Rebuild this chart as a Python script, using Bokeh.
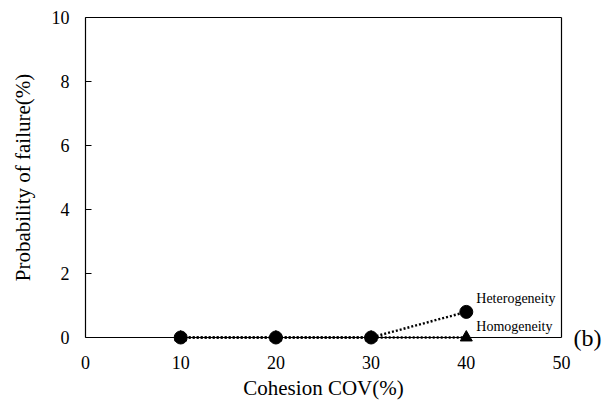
from bokeh.plotting import figure
from bokeh.models import Range1d, Label, FixedTicker, LinearAxis
from bokeh.embed import file_html
from bokeh.resources import INLINE

# Cohesion coefficient of variation (%) and failure probability (%)
cov = [10, 20, 30, 40]
pf_heterogeneity = [0.0, 0.0, 0.0, 0.8]
pf_homogeneity = [0.0, 0.0, 0.0, 0.0]
x_ticks = [0, 10, 20, 30, 40, 50]
y_ticks = [0, 2, 4, 6, 8, 10]
panel_tag = "(b)"

FONT = "Liberation Serif"
W, H = 605, 401
X0, X1, Y0, Y1 = 0, 50, 0, 10
# pixel margins around the data box
ML, MR, MT, MB = 85, 44, 17, 64

# The frame fills the whole canvas so that marks and tick labels on the box edges
# are drawn whole; the box itself is formed by axis lines bounded to the data limits.
sx = (X1 - X0) / (W - ML - MR)
sy = (Y1 - Y0) / (H - MT - MB)
p = figure(width=W, height=H, output_backend="svg", toolbar_location=None,
           x_range=Range1d(X0 - ML * sx, X1 + MR * sx),
           y_range=Range1d(Y0 - MB * sy, Y1 + MT * sy),
           min_border=0)
p.background_fill_color = "white"
p.border_fill_color = "white"
p.outline_line_color = None
p.xgrid.visible = False
p.ygrid.visible = False

for ax in (p.xaxis, p.yaxis):
    ax.axis_line_color = "black"
    ax.axis_line_width = 1.2
    ax.major_label_text_font = FONT
    ax.major_label_text_font_size = "18px"
    ax.major_label_text_color = "black"
    ax.axis_label_text_font = FONT
    ax.axis_label_text_font_size = "21px"
    ax.axis_label_text_font_style = "normal"
    ax.axis_label_text_color = "black"
    ax.minor_tick_line_color = None

p.xaxis.fixed_location = Y0
p.yaxis.fixed_location = X0
p.xaxis.bounds = (X0, X1)
p.yaxis.bounds = (Y0, Y1)
p.xaxis.ticker = FixedTicker(ticks=x_ticks)
p.yaxis.ticker = FixedTicker(ticks=y_ticks)
p.xaxis.major_tick_in = 0
p.xaxis.major_tick_out = 0
p.yaxis.major_tick_in = 6
p.yaxis.major_tick_out = 0
p.yaxis.major_tick_line_color = "black"
p.xaxis.major_label_standoff = 18
p.yaxis.major_label_standoff = 16
p.xaxis.axis_label = "Cohesion COV(%)"
p.yaxis.axis_label = "Probability of failure(%)"
p.xaxis.axis_label_standoff = 4
p.yaxis.axis_label_standoff = 14

# Top edge of the box
top_axis = LinearAxis(ticker=FixedTicker(ticks=[]), fixed_location=Y1, bounds=(X0, X1))
top_axis.axis_line_color = "black"
top_axis.axis_line_width = 1.2
top_axis.major_tick_line_color = None
top_axis.minor_tick_line_color = None
p.add_layout(top_axis, "above")

# Right edge of the box, carrying the panel tag beside the zero line
tag_axis = LinearAxis(ticker=FixedTicker(ticks=[Y0]), major_label_overrides={Y0: panel_tag},
                      fixed_location=X1, bounds=(Y0, Y1))
tag_axis.axis_line_color = "black"
tag_axis.axis_line_width = 1.2
tag_axis.major_tick_line_color = None
tag_axis.minor_tick_line_color = None
tag_axis.major_label_standoff = 6
tag_axis.major_label_text_font = FONT
tag_axis.major_label_text_font_size = "24px"
tag_axis.major_label_text_color = "black"
tag_axis.major_label_text_baseline = "top"
p.add_layout(tag_axis, "right")

# Homogeneous case
p.line(cov, pf_homogeneity, line_color="black", line_width=2.4, line_dash="2 2")
p.scatter(cov, pf_homogeneity, marker="triangle", size=12, fill_color="black", line_color="black")

# Heterogeneous case
p.line(cov, pf_heterogeneity, line_color="black", line_width=2.4, line_dash="2 2")
p.scatter(cov, pf_heterogeneity, marker="circle", size=13, fill_color="black", line_color="black")

p.add_layout(Label(x=cov[-1], y=pf_heterogeneity[-1], text="Heterogeneity", x_offset=10, y_offset=6,
                   text_font=FONT, text_font_size="14px", text_color="black"))
p.add_layout(Label(x=cov[-1], y=pf_homogeneity[-1], text="Homogeneity", x_offset=10, y_offset=4,
                   text_font=FONT, text_font_size="14px", text_color="black"))

open("out.html", "w").write(file_html(p, INLINE))
